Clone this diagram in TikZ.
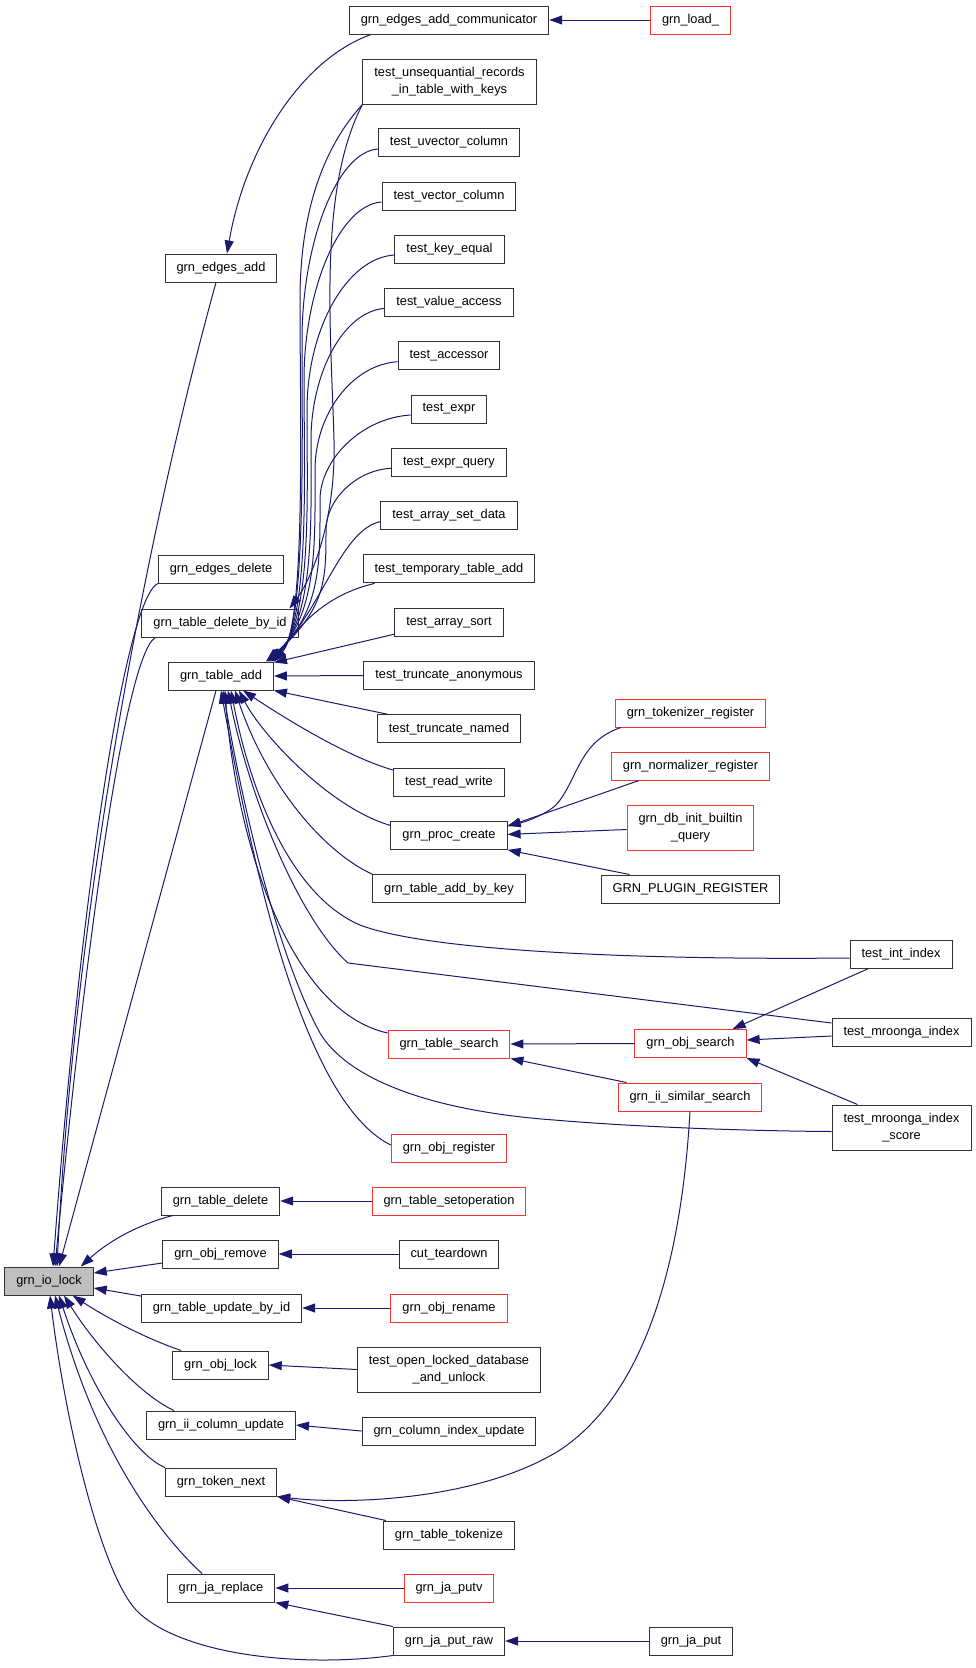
\documentclass[tikz,border=0pt]{standalone}
\usepackage{fontspec}
\setmainfont{Liberation Sans}
\usetikzlibrary{arrows.meta}
\definecolor{edgec}{HTML}{191970}
\definecolor{boxc}{HTML}{333333}
\definecolor{redc}{HTML}{FF3030}
\definecolor{grayc}{HTML}{BFBFBF}
\newcommand\labfont{\fontsize{12.8}{16.5}\selectfont}
\begin{document}
\begin{tikzpicture}[x=1pt,y=-1pt,
  box/.style={draw=boxc, line width=1pt, fill=white, minimum height=28pt, inner xsep=11.5pt, inner ysep=0pt, font=\labfont, align=center, anchor=center},
  rbox/.style={box, draw=redc},
  two/.style={minimum height=45pt},
  e/.style={draw=edgec, line width=1pt},
  ah/.style={e, {Triangle[length=13pt,width=9pt]}-}]
\useasboundingbox (0,0) rectangle (976,1668);
% column A
\node[box, fill=grayc] (iolock) at (49,1281) {grn\_io\_lock};
\node[box] (edgesadd) at (221,268) {grn\_edges\_add};
\node[box] (edgesdel) at (221,569) {grn\_edges\_delete};
\node[box] (tdbi) at (220,623) {grn\_table\_delete\_by\_id};
\node[box] (tadd) at (221,676) {grn\_table\_add};
\node[box] (tdel) at (220.5,1201) {grn\_table\_delete};
\node[box] (orem) at (220.5,1254) {grn\_obj\_remove};
\node[box] (tupd) at (221.5,1308) {grn\_table\_update\_by\_id};
\node[box] (olock) at (220.5,1365) {grn\_obj\_lock};
\node[box] (iicu) at (221,1425) {grn\_ii\_column\_update};
\node[box] (tnext) at (221,1482) {grn\_token\_next};
\node[box] (jrep) at (221,1588) {grn\_ja\_replace};
% column B
\node[box] (comm) at (449,20) {grn\_edges\_add\_communicator};
\node[box, two] (unseq) at (449.5,81.5) {test\_unsequantial\_records\\\_in\_table\_with\_keys};
\node[box] (uvec) at (449,142.5) {test\_uvector\_column};
\node[box] (vec) at (449,196) {test\_vector\_column};
\node[box] (keq) at (449.5,249) {test\_key\_equal};
\node[box] (vacc) at (449,302.4) {test\_value\_access};
\node[box] (acc) at (449,355.7) {test\_accessor};
\node[box] (expr) at (449,409) {test\_expr};
\node[box] (exprq) at (449,462.3) {test\_expr\_query};
\node[box] (asd) at (449,515.6) {test\_array\_set\_data};
\node[box] (tta) at (449,568.9) {test\_temporary\_table\_add};
\node[box] (asort) at (449,622.2) {test\_array\_sort};
\node[box] (tanon) at (449,675.5) {test\_truncate\_anonymous};
\node[box] (tnamed) at (449,728.8) {test\_truncate\_named};
\node[box] (rw) at (449,782.1) {test\_read\_write};
\node[box] (proc) at (449,835.4) {grn\_proc\_create};
\node[box] (tabk) at (449,888.7) {grn\_table\_add\_by\_key};
\node[rbox] (tsearch) at (449,1044) {grn\_table\_search};
\node[rbox] (oreg) at (449,1148) {grn\_obj\_register};
\node[rbox] (setop) at (449,1201) {grn\_table\_setoperation};
\node[box] (cut) at (449,1254) {cut\_teardown};
\node[rbox] (oren) at (449,1308) {grn\_obj\_rename};
\node[box, two] (openl) at (449,1369.5) {test\_open\_locked\_database\\\_and\_unlock};
\node[box] (ciu) at (449,1431) {grn\_column\_index\_update};
\node[box] (ttok) at (449,1535) {grn\_table\_tokenize};
\node[rbox] (jputv) at (449,1588) {grn\_ja\_putv};
\node[box] (jraw) at (449,1641) {grn\_ja\_put\_raw};
% column C
\node[rbox] (load) at (690.5,20) {grn\_load\_};
\node[rbox] (tokr) at (690.5,713) {grn\_tokenizer\_register};
\node[rbox] (normr) at (690.5,766) {grn\_normalizer\_register};
\node[rbox, two] (dbinit) at (690.5,827.5) {grn\_db\_init\_builtin\\\_query};
\node[box] (plug) at (690.5,889) {GRN\_PLUGIN\_REGISTER};
\node[rbox] (osearch) at (690.5,1043.5) {grn\_obj\_search};
\node[rbox] (iis) at (690,1097) {grn\_ii\_similar\_search};
\node[box] (jput) at (691,1641) {grn\_ja\_put};
% column D
\node[box] (tint) at (901,954) {test\_int\_index};
\node[box] (mro) at (901.5,1032) {test\_mroonga\_index};
\node[box, two] (mros) at (901.5,1127.5) {test\_mroonga\_index\\\_score};

% ---- edges ----
\draw[ah] (comm.east) -- (load.west);
\draw[ah] ([xshift=6pt]edgesadd.north) .. controls (245,150) and (300,60) .. ([xshift=-78pt]comm.south);
\draw[ah] ([xshift=8pt]iolock.north) .. controls (75,900) and (150,520) .. ([xshift=-5pt]edgesadd.south);
\draw[ah] ([xshift=4pt]iolock.north) .. controls (80,900) and (125,600) .. (edgesdel.south west);
\draw[ah] ([xshift=6pt]iolock.north) .. controls (85,950) and (125,655) .. ([xshift=14pt]tdbi.south west);
\draw[ah] ([xshift=10pt]iolock.north) -- ([xshift=-5pt]tadd.south);
\draw[ah] ([xshift=-13pt]iolock.north east) .. controls (110,1240) and (140,1224) .. ([xshift=12pt]tdel.south west);
\draw[ah] ([yshift=8pt]iolock.east) -- ([yshift=-9pt]orem.west);
\draw[ah] ([yshift=-7pt]iolock.east) -- ([yshift=12pt]tupd.west);
\draw[ah] ([xshift=-21pt]iolock.south east) .. controls (110,1320) and (150,1340) .. ([xshift=9pt]olock.north west);
\draw[ah] ([xshift=15pt]iolock.south) .. controls (95,1345) and (140,1395) .. ([xshift=28pt]iicu.north west);
\draw[ah] ([xshift=10pt]iolock.south) .. controls (90,1390) and (135,1455) .. (tnext.north west);
\draw[ah] ([xshift=6pt]iolock.south) .. controls (95,1450) and (160,1535) .. ([xshift=-19pt]jrep.north);
\draw[ah] ([xshift=1pt]iolock.south) .. controls (65,1420) and (100,1570) .. (136,1610) .. controls (180,1655) and (300,1668) .. (jraw.south west);
% bundle into grn_table_add (top right)
\draw[ah] (tadd.north east) .. controls (306,625) and (300,420) .. (300,300) .. controls (300,200) and (330,140) .. (unseq.south west);
\draw[ah] ([xshift=-9pt]tdbi.north east) .. controls (312,578) and (336,520) .. (334,440) .. controls (331,330) and (318,190) .. (unseq.south west);
\draw[ah] (tadd.north east) .. controls (306,625) and (302,440) .. (302,340) .. controls (302,245) and (336,152) .. ([yshift=-6.5pt]uvec.west);
\draw[ah] ([xshift=-2pt]tadd.north east) .. controls (310,620) and (304,470) .. (304,380) .. controls (304,290) and (339,205) .. ([yshift=-6pt]vec.west);
\draw[ah] ([xshift=-3pt]tadd.north east) .. controls (312,618) and (307,500) .. (307,410) .. controls (307,330) and (346,258) .. ([yshift=-6pt]keq.west);
\draw[ah] ([xshift=-4pt]tadd.north east) .. controls (315,615) and (311,520) .. (311,440) .. controls (311,375) and (342,312) .. ([yshift=-6pt]vacc.west);
\draw[ah] ([xshift=-5pt]tadd.north east) .. controls (318,612) and (315,540) .. (315,470) .. controls (315,415) and (351,365) .. ([yshift=-6pt]acc.west);
\draw[ah] ([xshift=-6pt]tadd.north east) .. controls (322,610) and (320,560) .. (320,500) .. controls (320,460) and (361,418) .. ([yshift=-6pt]expr.west);
\draw[ah] ([xshift=-7pt]tadd.north east) .. controls (326,608) and (326,580) .. (326,530) .. controls (326,500) and (356,470) .. ([yshift=-6pt]exprq.west);
\draw[ah] ([xshift=-8pt]tadd.north east) .. controls (320,615) and (340,530) .. ([yshift=-6pt]asd.west);
\draw[ah] ([xshift=-1pt]tadd.north east) .. controls (300,625) and (325,595) .. ([xshift=12pt]tta.south west);
\draw[ah] ([yshift=-1pt]tadd.north east) -- ([yshift=-12pt]asort.west);
\draw[ah] (tadd.east) -- (tanon.west);
\draw[ah] (tadd.south east) -- ([xshift=11pt]tnamed.north west);
\draw[ah] ([xshift=22pt]tadd.south) .. controls (265,705) and (340,755) .. ([yshift=12pt]rw.west);
\draw[ah] ([xshift=18pt]tadd.south) .. controls (262,735) and (330,808) .. ([yshift=10pt]proc.west);
\draw[ah] ([xshift=14pt]tadd.south) .. controls (265,780) and (320,850) .. (tabk.north west);
\draw[ah] ([xshift=10pt]tadd.south) .. controls (250,790) and (290,895) .. (360,925) .. controls (430,952) and (650,960) .. ([yshift=-4pt]tint.west);
\draw[ah] ([xshift=7pt]tadd.south) .. controls (250,800) and (300,920) .. (348,963) -- ([yshift=9pt]mro.west);
\draw[ah] ([xshift=4pt]tadd.south) .. controls (235,830) and (285,1010) .. ([yshift=11pt]tsearch.west);
\draw[ah] ([xshift=2pt]tadd.south) .. controls (245,820) and (280,960) .. (320,1033) .. controls (345,1075) and (420,1110) .. (554,1120) .. controls (650,1128) and (760,1131) .. ([yshift=-4pt]mros.west);
\draw[ah] (tadd.south) .. controls (250,850) and (300,1100) .. ([yshift=3pt]oreg.west);
% proc create
\draw[ah] ([yshift=10pt]proc.east) .. controls (525,822) and (545,815) .. (556,805) .. controls (578,780) and (578,742) .. ([xshift=6pt]tokr.south west);
\draw[ah] ([yshift=9pt]proc.east) -- ([xshift=28pt]normr.south west);
\draw[ah] ([yshift=1pt]proc.east) -- ([yshift=-2pt]dbinit.west);
\draw[ah] (proc.south east) -- ([xshift=29pt]plug.north west);
% search
\draw[ah] (tsearch.east) -- (osearch.west);
\draw[ah] (tsearch.south east) -- ([xshift=9pt]iis.north west);
\draw[ah] ([xshift=-14pt]osearch.north east) -- ([xshift=19pt]tint.south west);
\draw[ah] ([yshift=3.5pt]osearch.east) -- ([yshift=-4pt]mro.west);
\draw[ah] (osearch.south east) -- ([xshift=26pt]mros.north west);
\draw[ah] (tnext.south east) .. controls (350,1505) and (480,1500) .. (560,1450) .. controls (650,1390) and (682,1250) .. (iis.south);
\draw[ah] (tnext.south east) -- ([xshift=3pt]ttok.north west);
% lower simple
\draw[ah] (tdel.east) -- (setop.west);
\draw[ah] (orem.east) -- (cut.west);
\draw[ah] (tupd.east) -- (oren.west);
\draw[ah] (olock.east) -- (openl.west);
\draw[ah] (iicu.east) -- (ciu.west);
\draw[ah] (jrep.east) -- (jputv.west);
\draw[ah] (jrep.south east) -- (jraw.north west);
\draw[ah] (jraw.east) -- (jput.west);
\end{tikzpicture}
\end{document}
